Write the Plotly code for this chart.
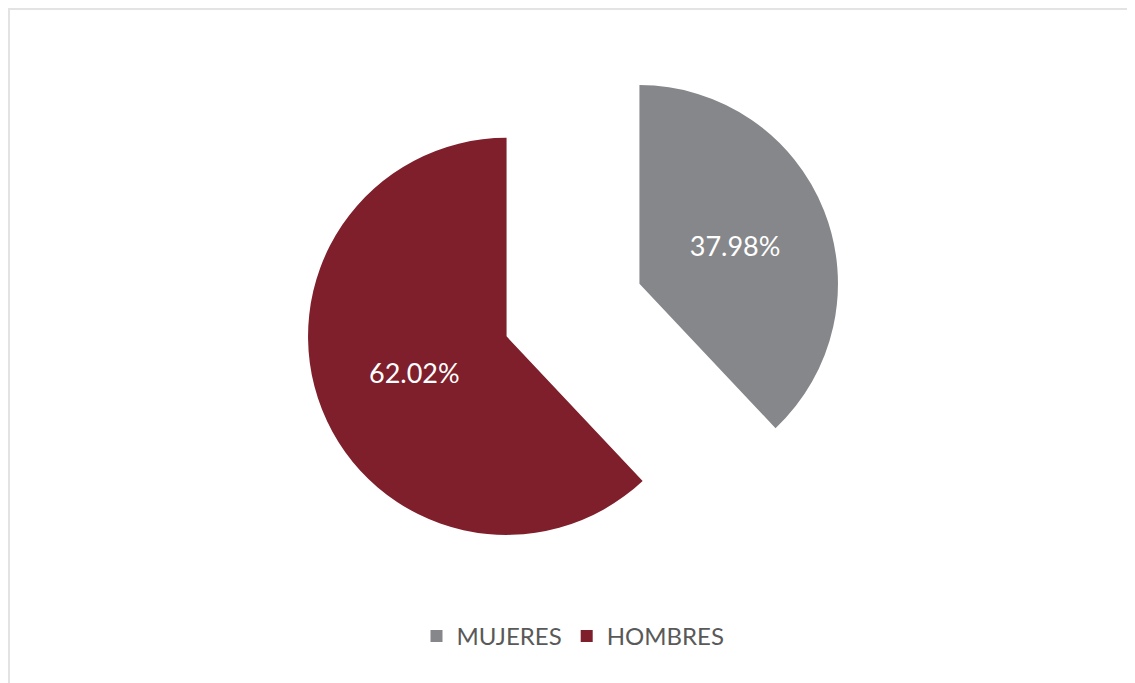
import plotly.graph_objects as go

categories = ["MUJERES", "HOMBRES"]
shares = [37.98, 62.02]
slice_colors = ["#86878a", "#7f1f2b"]

fig = go.Figure(
    go.Pie(
        labels=categories,
        values=shares,
        sort=False,
        direction="clockwise",
        rotation=0,
        pull=[0.36, 0.36],
        marker=dict(colors=slice_colors, line=dict(width=0)),
        texttemplate="%{value:.2f}%",
        textposition="inside",
        insidetextorientation="horizontal",
        textfont=dict(family="Lato, Open Sans, sans-serif", size=27, color="white"),
        hoverinfo="label+percent",
    )
)

L, R, T, B = 93, 98, 32, 111
W, H = 1135 - L - R, 683 - T - B

fig.update_layout(
    width=1135,
    height=683,
    paper_bgcolor="white",
    plot_bgcolor="white",
    margin=dict(l=L, r=R, t=T, b=B),
    showlegend=True,
    legend=dict(
        orientation="h",
        x=0.5,
        xanchor="center",
        y=-(606 - (683 - B)) / H,
        yanchor="top",
        font=dict(family="Lato, Open Sans, sans-serif", size=24, color="#595959"),
        itemsizing="constant",
    ),
    shapes=[
        dict(
            type="rect", xref="paper", yref="paper",
            x0=-(L - 1) / W, x1=1 + (R + 20) / W,
            y0=-(B + 20) / H, y1=1 + (T - 1) / H,
            line=dict(color="#e3e3e3", width=2), fillcolor="rgba(0,0,0,0)",
            layer="below",
        )
    ],
)

fig.write_html("out.html")
